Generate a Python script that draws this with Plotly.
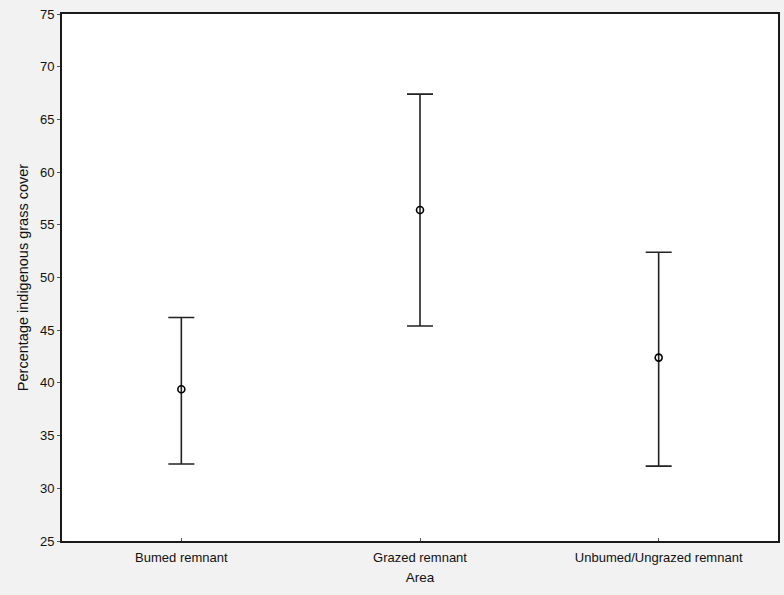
import plotly.graph_objects as go

categories = ["Burned remnant", "Grazed remnant", "Unburned/Ungrazed remnant"]
tick_labels = ["Bumed remnant", "Grazed remnant", "Unbumed/Ungrazed remnant"]
means = [39.4, 56.4, 42.4]
upper = [46.2, 67.4, 52.4]
lower = [32.3, 45.4, 32.1]

err_plus = [u - m for u, m in zip(upper, means)]
err_minus = [m - l for m, l in zip(means, lower)]

font = "Liberation Sans, Arial, sans-serif"

fig = go.Figure()
fig.add_trace(go.Scatter(
    x=list(range(len(categories))),
    y=means,
    mode="markers",
    marker=dict(symbol="circle-open", size=7, color="black", line=dict(width=1.6)),
    error_y=dict(type="data", symmetric=False, array=err_plus, arrayminus=err_minus,
                 color="#222222", thickness=1.6, width=13),
    showlegend=False,
))

fig.update_layout(
    width=784, height=595,
    margin=dict(l=62, r=4, t=14, b=54),
    paper_bgcolor="#f2f2f2",
    plot_bgcolor="white",
    font=dict(family=font, color="#111111", size=13),
    xaxis=dict(
        tickmode="array", tickvals=list(range(len(categories))), ticktext=tick_labels,
        range=[-0.5, 2.5], showgrid=False, zeroline=False,
        showline=True, linecolor="#1a1a1a", linewidth=2, mirror=True,
        ticks="inside", ticklen=3, tickcolor="#555",
        ticklabelstandoff=3,
        tickfont=dict(size=13, family=font),
        title=dict(text="Area", font=dict(size=13.5, family=font), standoff=9),
    ),
    yaxis=dict(
        range=[25, 75], tickmode="linear", tick0=25, dtick=5,
        showgrid=False, zeroline=False,
        showline=True, linecolor="#1a1a1a", linewidth=2, mirror=True,
        ticks="outside", ticklen=3, tickcolor="#555",
        tickfont=dict(size=13, family=font),
        title=dict(text="Percentage indigenous grass cover", font=dict(size=14.5, family=font), standoff=8),
    ),
)

fig.write_html("out.html")
